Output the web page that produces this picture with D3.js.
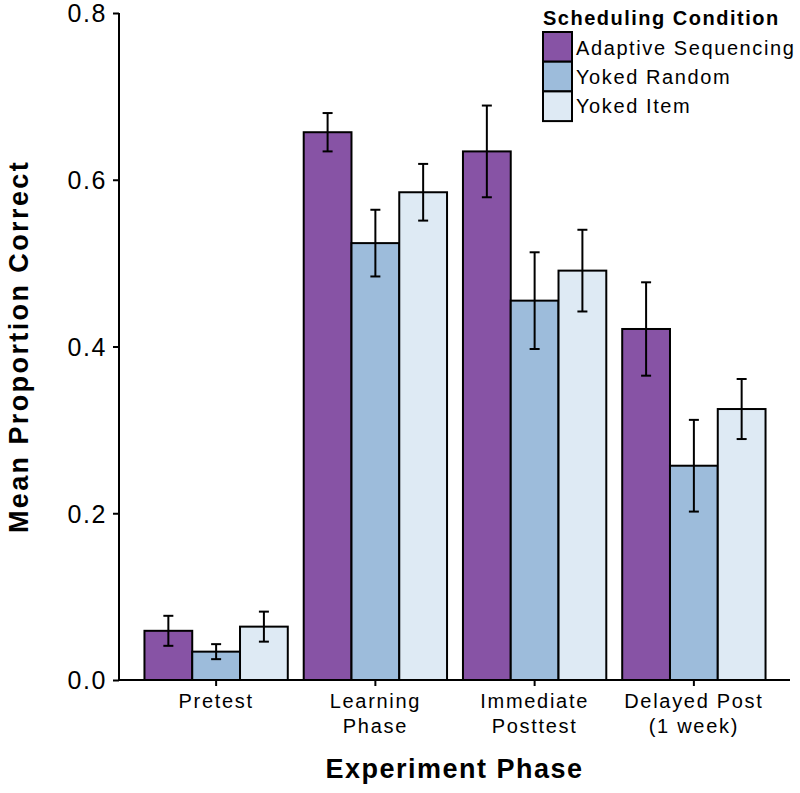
<!DOCTYPE html>
<html><head><meta charset="utf-8">
<script src="https://cdnjs.cloudflare.com/ajax/libs/d3/7.8.5/d3.min.js"></script>
<style>
body{margin:0;background:#fff;}
svg{display:block;}
text{font-family:"Liberation Sans",Arial,sans-serif;fill:#000;}
</style></head>
<body>
<svg id="chart" width="800" height="793"></svg>
<script>
const phases = ["Pretest", "Learning Phase", "Immediate Posttest", "Delayed Post (1 week)"];
const phaseLabels = [["Pretest"], ["Learning", "Phase"], ["Immediate", "Posttest"], ["Delayed Post", "(1 week)"]];
const conditions = ["Adaptive Sequencing", "Yoked Random", "Yoked Item"];
const adaptiveMean = [0.059, 0.657, 0.634, 0.421];
const adaptiveSE   = [0.018, 0.023, 0.055, 0.056];
const randomMean   = [0.034, 0.524, 0.455, 0.257];
const randomSE     = [0.009, 0.040, 0.058, 0.055];
const itemMean     = [0.064, 0.585, 0.491, 0.325];
const itemSE       = [0.018, 0.034, 0.049, 0.036];
const yTicks = [0.0, 0.2, 0.4, 0.6, 0.8];
const colors = ["#8753a5", "#9dbcdb", "#deeaf4"];

const means = [adaptiveMean, randomMean, itemMean];
const ses = [adaptiveSE, randomSE, itemSE];
const data = [];
phases.forEach((p, i) => conditions.forEach((c, j) => data.push({phase: p, cond: c, mean: means[j][i], se: ses[j][i]})));

const svg = d3.select("#chart");
const axisLeftX = 119, axisRightX = 790, baseY = 680, topY = 13;

const y = d3.scaleLinear().domain([0, 0.8]).range([baseY, topY]);
const x = d3.scaleBand().domain(phases).range([136.5, 773.5]).paddingInner(0.1).paddingOuter(0.05);
const xs = d3.scaleBand().domain(conditions).range([0, x.bandwidth()]);
const color = d3.scaleOrdinal().domain(conditions).range(colors);

// bars
const g = svg.append("g");
g.selectAll("rect.bar").data(data).join("rect")
  .attr("class", "bar")
  .attr("x", d => x(d.phase) + xs(d.cond))
  .attr("y", d => y(d.mean))
  .attr("width", xs.bandwidth())
  .attr("height", d => y(0) - y(d.mean))
  .attr("fill", d => color(d.cond))
  .attr("stroke", "#000").attr("stroke-width", 2);

// error bars
const eb = g.selectAll("g.eb").data(data).join("g").attr("class", "eb")
  .attr("stroke", "#000").attr("stroke-width", 2);
const cx = d => x(d.phase) + xs(d.cond) + xs.bandwidth() / 2;
eb.append("line").attr("x1", cx).attr("x2", cx)
  .attr("y1", d => y(d.mean - d.se)).attr("y2", d => y(d.mean + d.se));
eb.append("line").attr("x1", d => cx(d) - 5).attr("x2", d => cx(d) + 5)
  .attr("y1", d => y(d.mean + d.se)).attr("y2", d => y(d.mean + d.se));
eb.append("line").attr("x1", d => cx(d) - 5).attr("x2", d => cx(d) + 5)
  .attr("y1", d => y(d.mean - d.se)).attr("y2", d => y(d.mean - d.se));

// y axis
const yAxis = svg.append("g").attr("transform", `translate(${axisLeftX},0)`)
  .call(d3.axisLeft(y).tickValues(yTicks).tickFormat(d3.format(".1f")).tickSize(6).tickPadding(6).tickSizeOuter(0));
yAxis.select(".domain").attr("stroke-width", 2).attr("d", `M0,${topY}V${baseY}`);
yAxis.selectAll(".tick line").attr("stroke-width", 2);
yAxis.selectAll(".tick text").attr("font-size", 25).attr("letter-spacing", 1.6)
  .attr("font-family", "Liberation Sans, Arial, sans-serif").attr("fill", "#000").attr("dy", "0.35em");

// x axis
const xAxis = svg.append("g").attr("transform", `translate(0,${baseY})`)
  .call(d3.axisBottom(x).tickSize(6).tickSizeOuter(0).tickFormat(""));
xAxis.select(".domain").attr("stroke-width", 2).attr("d", `M${axisLeftX - 1},0H${axisRightX}`);
xAxis.selectAll(".tick line").attr("stroke-width", 2);
xAxis.selectAll(".tick").each(function(d, i) {
  const t = d3.select(this).append("text").attr("text-anchor", "middle")
    .attr("font-size", 20).attr("letter-spacing", 1.7);
  phaseLabels[i].forEach((line, k) => t.append("tspan").attr("x", 0).attr("y", 28 + k * 25).text(line));
});

// axis titles
svg.append("text").attr("x", (axisLeftX + axisRightX) / 2).attr("y", 778)
  .attr("text-anchor", "middle").attr("font-size", 27).attr("font-weight", "bold")
  .attr("letter-spacing", 1.5).text("Experiment Phase");
svg.append("text").attr("transform", `translate(28,${(topY + baseY) / 2}) rotate(-90)`)
  .attr("text-anchor", "middle").attr("font-size", 27).attr("font-weight", "bold")
  .attr("letter-spacing", 2.4).text("Mean Proportion Correct");

// legend
const lg = svg.append("g").attr("transform", "translate(543,0)");
lg.append("text").attr("x", 0).attr("y", 25).attr("font-size", 20).attr("font-weight", "bold")
  .attr("letter-spacing", 1.5).text("Scheduling Condition");
conditions.forEach((c, i) => {
  lg.append("rect").attr("x", 0).attr("y", 32 + i * 29.7).attr("width", 29).attr("height", 29.7)
    .attr("fill", color(c)).attr("stroke", "#000").attr("stroke-width", 2);
  lg.append("text").attr("x", 33).attr("y", 55 + i * 29.2).attr("font-size", 20)
    .attr("letter-spacing", 1.6).text(c);
});
</script>
</body></html>
